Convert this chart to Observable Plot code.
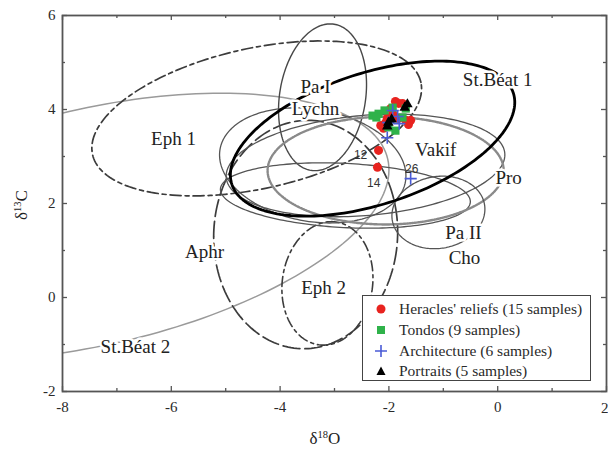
<!DOCTYPE html>
<html>
<head>
<meta charset="utf-8">
<script src="https://cdn.jsdelivr.net/npm/d3@7"></script>
<script src="https://cdn.jsdelivr.net/npm/@observablehq/plot@0.6"></script>
<style>
  body { margin: 0; background: #fff; }
  #wrap { position: relative; width: 608px; height: 455px; font-family: "Liberation Serif", "Times New Roman", serif; color: #222; }
  #legend { position: absolute; left: 362px; top: 295px; width: 229px; height: 86px; border: 1.6px solid #444; background: #fff; box-sizing: border-box; font-family: "Liberation Serif", "Times New Roman", serif; }
  .row { position: absolute; left: 0; height: 20px; display: flex; align-items: center; font-size: 15.5px; white-space: nowrap; font-family: "Liberation Serif", "Times New Roman", serif; color: #2a2a2a; }
  .row svg { margin-left: 12px; margin-right: 12px; }
  #xt { position: absolute; left: 0; width: 650px; top: 429px; text-align: center; font-size: 17px; }
  #yt { position: absolute; left: 22px; top: 205px; font-size: 17px; transform: translate(-50%, -50%) rotate(-90deg); white-space: nowrap; }
  sup { font-size: 10.5px; vertical-align: 6px; line-height: 0; }
</style>
</head>
<body>
<div id="wrap">
  <div id="chart"></div>
  <div id="xt">δ<sup>18</sup>O</div>
  <div id="yt">δ<sup>13</sup>C</div>
  <div id="legend"></div>
</div>
<script>
// ---------- data ----------
const xMajor = [-8, -6, -4, -2, 0, 2];
const xMinor = [-7, -5, -3, -1, 1];
const yMajor = [-2, 0, 2, 4, 6];
const yMinor = [-1, 1, 3, 5];

// Samples (δ18O, δ13C)
const heraclesX = [-2.19, -2.21, -1.82, -1.88, -1.75, -1.64, -1.69, -2.15, -2.10, -2.03, -1.93, -1.82, -1.97, -2.06, -1.60];
const heraclesY = [3.13, 2.77, 4.13, 4.17, 4.13, 3.68, 3.77, 3.66, 3.60, 3.81, 3.91, 3.81, 4.02, 3.72, 3.77];
const tondosX = [-2.30, -2.19, -2.08, -1.93, -1.75, -1.88, -2.01, -1.69, -2.23];
const tondosY = [3.87, 3.91, 3.98, 4.04, 3.83, 3.55, 3.62, 4.02, 3.83];
const archX = [-1.60, -2.03, -1.93, -1.84, -2.01, -1.81];
const archY = [2.53, 3.40, 3.98, 3.85, 3.72, 3.70];
const portraitX = [-1.66, -2.01, -2.03, -1.95, -1.71];
const portraitY = [4.11, 3.72, 3.64, 3.79, 4.04];

const sampleIds = ["12", "14", "26"];
const sampleIdX = [-2.52, -2.28, -1.58];
const sampleIdY = [3.02, 2.43, 2.74];

// Quarry fields drawn as ellipses: centre (δ18O, δ13C), semi-axes (δ18O units), on-screen tilt (deg)
const fieldNames = ["St.Béat 2", "Eph 1", "Aphr", "Eph 2", "Pa I", "Lychn", "Cho", "Vakif", "Pro", "Pa II", "St.Béat 1"];
const fieldCx    = [-7.39, -4.43, -3.53, -3.13, -3.22, -3.40, -2.80, -2.43, -2.06, -1.09, -2.30];
const fieldCy    = [ 1.51,  3.81,  1.34,  0.30,  4.26,  2.81,  2.17,  2.81,  2.70,  1.81,  3.38];
const fieldA     = [ 5.51,  3.09,  2.10,  1.14,  1.36,  1.73,  2.30,  2.57,  2.17,  0.86,  2.72];
const fieldB     = [ 2.17,  1.29,  1.69,  0.83,  0.79,  1.03,  0.59,  0.92,  0.99,  0.66,  1.21];
const fieldTilt  = [ 13,    12.4,  87,    82,    81,   -10,    -3,     5,     0,    10,    18];

const labelText = ["Eph 1", "Pa I", "Lychn", "St.Béat 1", "Vakif", "Pro", "Pa II", "Cho", "Aphr", "Eph 2", "St.Béat 2"];
const labelX    = [-5.96, -3.35, -3.35, 0.00, -1.14, 0.20, -0.63, -0.61, -5.39, -3.20, -6.66];
const labelY    = [ 3.38,  4.49,  4.02, 4.62,  3.13, 2.55,  1.38,  0.85,  0.96,  0.21, -1.06];

const legendNames = ["Heracles' reliefs (15 samples)", "Tondos (9 samples)", "Architecture (6 samples)", "Portraits (5 samples)"];

// ---------- styles ----------
const W = 608, H = 455, ML = 62, MR = 2, MT = 15, MB = 64;
const pxX = (W - ML - MR) / 10, pxY = (H - MT - MB) / 8;
const ratio = pxX / pxY;
const fieldStyle = {
  "St.Béat 2": {stroke: "#9a9a9a", strokeWidth: 1.5},
  "Eph 1": {stroke: "#3c3c3c", strokeWidth: 1.7, strokeDasharray: "11,4,4,4"},
  "Aphr": {stroke: "#3c3c3c", strokeWidth: 1.7, strokeDasharray: "17,5"},
  "Eph 2": {stroke: "#3c3c3c", strokeWidth: 1.6, strokeDasharray: "10,4,3,4"},
  "Pa I": {stroke: "#484848", strokeWidth: 1.4},
  "Lychn": {stroke: "#555", strokeWidth: 1.3},
  "Cho": {stroke: "#555", strokeWidth: 1.3},
  "Vakif": {stroke: "#555", strokeWidth: 1.3},
  "Pro": {stroke: "#8a8a8a", strokeWidth: 2.4, strokeDasharray: "1.5,1"},
  "Pa II": {stroke: "#555", strokeWidth: 1.3},
  "St.Béat 1": {stroke: "#000", strokeWidth: 2.8}
};
const colors = {red: "#e8231f", green: "#2fb24a", blue: "#4a5bd6", black: "#000"};

function ellipse(i) {
  const th = fieldTilt[i] * Math.PI / 180, N = 200, pts = [];
  for (let k = 0; k <= N; k++) {
    const t = 2 * Math.PI * k / N;
    const u = fieldA[i] * Math.cos(t), v = fieldB[i] * Math.sin(t);
    pts.push({x: fieldCx[i] + u * Math.cos(th) - v * Math.sin(th),
              y: fieldCy[i] + (u * Math.sin(th) + v * Math.cos(th)) * ratio});
  }
  return pts;
}

const pts = (xs, ys) => xs.map((x, i) => ({x, y: ys[i]}));
const labels = labelText.map((t, i) => ({t, x: labelX[i], y: labelY[i]}));
const ids = sampleIds.map((t, i) => ({t, x: sampleIdX[i], y: sampleIdY[i]}));

const tMaj = 5, tMin = 3;
const tick = (vals, len) => [
  Plot.ruleX(vals, {x: d => d, y1: -2, y2: -2 + len / pxY, stroke: "#555", strokeWidth: 1.3}),
  Plot.ruleX(vals, {x: d => d, y1: 6, y2: 6 - len / pxY, stroke: "#555", strokeWidth: 1.3})
];
const tickY = (vals, len) => [
  Plot.ruleY(vals, {y: d => d, x1: -8, x2: -8 + len / pxX, stroke: "#555", strokeWidth: 1.3}),
  Plot.ruleY(vals, {y: d => d, x1: 2, x2: 2 - len / pxX, stroke: "#555", strokeWidth: 1.3})
];
const xLast = xMajor[xMajor.length - 1];

const chart = Plot.plot({
  width: W, height: H, marginLeft: ML, marginRight: MR, marginTop: MT, marginBottom: MB,
  style: {fontFamily: "Liberation Serif, serif", fontSize: "15px", color: "#2a2a2a", background: "#fff"},
  x: {domain: [-8, 2], ticks: xMajor.filter(d => d !== xLast), tickSize: 0, tickPadding: 10, tickFormat: d => String(d), label: null},
  y: {domain: [-2, 6], ticks: yMajor, tickSize: 0, tickPadding: 7, tickFormat: d => String(d), label: null},
  marks: [
    ...fieldNames.map((n, i) => Plot.line(ellipse(i), {x: "x", y: "y", clip: true, ...fieldStyle[n]})),
    Plot.text(labels, {x: "x", y: "y", text: "t", fontSize: 19, fill: "#222", stroke: "white", strokeWidth: 5}),
    Plot.dot(pts(heraclesX, heraclesY), {x: "x", y: "y", r: 4.5, fill: colors.red, symbol: "circle"}),
    Plot.dot(pts(tondosX, tondosY), {x: "x", y: "y", r: 4.6, fill: colors.green, symbol: "square"}),
    Plot.dot(pts(archX, archY), {x: "x", y: "y", r: 4, stroke: colors.blue, strokeWidth: 1.6, symbol: "plus"}),
    Plot.dot(pts(portraitX, portraitY), {x: "x", y: "y", r: 3.9, fill: colors.black, symbol: "triangle"}),
    Plot.text(ids, {x: "x", y: "y", text: "t", fontSize: 12, fontFamily: "Liberation Sans, sans-serif", fill: "#333"}),
    ...tick(xMajor, tMaj), ...tick(xMinor, tMin),
    ...tickY(yMajor, tMaj), ...tickY(yMinor, tMin),
    Plot.frame({stroke: "#555", strokeWidth: 1.8}),
    Plot.text([xLast], {x: d => d, y: -2, text: d => String(d), textAnchor: "end", dx: 2, dy: 17, fontSize: 15, fill: "#2a2a2a"})
  ]
});
document.getElementById("chart").appendChild(chart);

// ---------- legend ----------
const symbols = [
  `<circle cx="6" cy="6" r="4.5" fill="${colors.red}"/>`,
  `<rect x="2" y="2" width="8" height="8" fill="${colors.green}"/>`,
  `<path d="M0,6H12M6,0V12" stroke="${colors.blue}" stroke-width="1.6"/>`,
  `<path d="M6,1.5L10.5,10H1.5Z" fill="#000"/>`
];
const rowTops = [3, 24, 45, 65];
const leg = document.getElementById("legend");
legendNames.forEach((name, i) => {
  const r = document.createElement("div");
  r.className = "row";
  r.style.top = rowTops[i] + "px";
  r.innerHTML = `<svg width="12" height="12">${symbols[i]}</svg><span>${name}</span>`;
  leg.appendChild(r);
});
</script>
</body>
</html>
